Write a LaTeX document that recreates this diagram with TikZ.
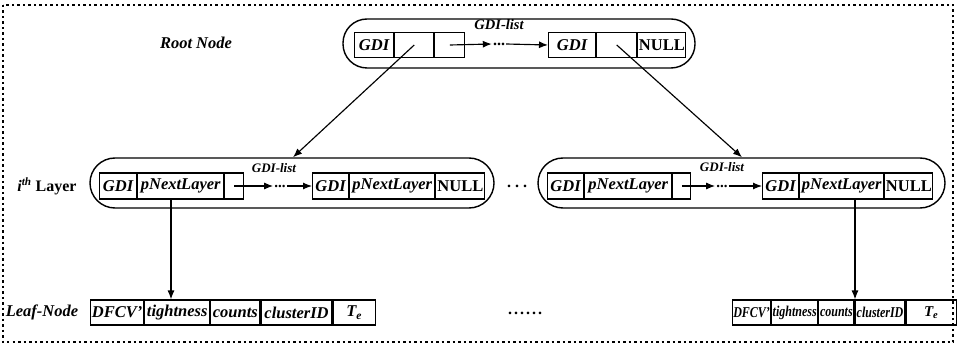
\documentclass[tikz,border=0pt]{standalone}
\usepackage{fontspec}
\setmainfont{Liberation Serif}
\usetikzlibrary{arrows.meta,calc}

% font sizes for the record cells and labels
\newcommand{\cellfont}{\fontsize{16.5}{18}\selectfont\bfseries\itshape}
\newcommand{\leaffontsmall}{\fontsize{15}{17}\selectfont\bfseries\itshape}
\newcommand{\labelfont}{\fontsize{16.5}{18}\selectfont\bfseries\itshape}
\newcommand{\rootlistfont}{\fontsize{14.5}{16}\selectfont\bfseries\itshape}
\newcommand{\layerlistfont}{\fontsize{13}{15}\selectfont\bfseries\itshape}
\newcommand{\nullcell}{\upshape NULL}
% narrower set of the right-hand leaf record
\newcommand{\narrow}[1]{\scalebox{0.8}[1]{#1}}

\begin{document}
\begin{tikzpicture}[x=1pt,y=-1pt,
  cell/.style={draw, line width=1.15pt, inner sep=0pt, minimum height=25pt,
               anchor=west, font=\cellfont},
  layercell/.style={cell, minimum height=26pt},
  leafsmall/.style={cell, font=\leaffontsmall},
  capsule/.style={draw, line width=1.4pt, rounded corners=24pt, inner sep=0pt},
  link/.style={line width=1.15pt, -{Latex[length=9pt,width=7pt]}},
  dots/.style={inner sep=1pt, font=\fontsize{16}{18}\selectfont\bfseries},
  listlabel/.style={inner sep=0pt, font=\layerlistfont},
  sidelabel/.style={inner sep=0pt, font=\labelfont},
  frame/.style={line width=1.1pt, dash pattern=on 2.5pt off 3pt}]
\useasboundingbox (0,0) rectangle (957,355);

% dashed outer frame
\draw[frame] (3,5) rectangle (953,342);

% ---------- root node ----------
\node[sidelabel] (rootlbl) at (196,43) {Root Node};
\node[capsule, minimum width=352pt, minimum height=49pt] (rootbox) at (519,43.5) {};
\node[cell, minimum width=39pt] (r1a) at (354,45) {GDI};
\node[cell, minimum width=39pt] (r1b) at (r1a.east) {};
\node[cell, minimum width=30pt] (r1c) at (r1b.east) {};
\node[cell, minimum width=47pt] (r2a) at (548,45) {GDI};
\node[cell, minimum width=40pt] (r2b) at (r2a.east) {};
\node[cell, minimum width=48pt] (r2c) at (r2b.east) {\nullcell};
\node[dots] (rdots) at (499,44) {...};
\node[inner sep=0pt, font=\rootlistfont] (rlist) at (499,25) {GDI-list};
\draw[link] (r1c.center) -- (rdots.west);
\draw[link] (rdots.east) -- (r2a.west);

% ---------- i-th layer, left list ----------
\node[sidelabel, font=\fontsize{16}{18}\selectfont\bfseries] (layerlbl) at (47,186)
  {\textit{i}\textsuperscript{\itshape th} Layer};
\node[capsule, rounded corners=25pt, minimum width=404pt, minimum height=50pt] (lbox) at (292,183) {};
\node[layercell, minimum width=37pt] (l1a) at (99,186) {GDI};
\node[layercell, minimum width=86pt] (l1b) at (l1a.east) {pNextLayer};
\node[layercell, minimum width=19pt] (l1c) at (l1b.east) {};
\node[layercell, minimum width=36pt] (l2a) at (312,186) {GDI};
\node[layercell, minimum width=85pt] (l2b) at (l2a.east) {pNextLayer};
\node[layercell, minimum width=49pt] (l2c) at (l2b.east) {\nullcell};
\node[dots, font=\fontsize{15}{17}\selectfont\bfseries] (ldots) at (280,186) {...};
\node[listlabel] (llist) at (274,168) {GDI-list};
\draw[link] (l1c.center) -- (ldots.west);
\draw[link] (ldots.east) -- (l2a.west);

% dots between the two layer lists
\node[dots] (midots) at (517,186) {.\ .\ .};

% ---------- i-th layer, right list ----------
\node[capsule, rounded corners=25pt, minimum width=407pt, minimum height=50pt] (rbox) at (741.5,183) {};
\node[layercell, minimum width=36pt] (q1a) at (547,186) {GDI};
\node[layercell, minimum width=87pt] (q1b) at (q1a.east) {pNextLayer};
\node[layercell, minimum width=18pt] (q1c) at (q1b.east) {};
\node[layercell, minimum width=36pt] (q2a) at (762,186) {GDI};
\node[layercell, minimum width=84pt] (q2b) at (q2a.east) {pNextLayer};
\node[layercell, minimum width=48pt] (q2c) at (q2b.east) {\nullcell};
\node[dots, font=\fontsize{15}{17}\selectfont\bfseries] (qdots) at (722,186) {...};
\node[listlabel] (qlist) at (722,167) {GDI-list};
\draw[link] (q1c.center) -- (qdots.west);
\draw[link] (qdots.east) -- (q2a.west);

% ---------- leaf nodes ----------
\node[sidelabel] (leaflbl) at (42,312) {Leaf-Node};
\node[cell, minimum width=53pt] (lf1) at (90,312.5) {DFCV'};
\node[cell, minimum width=65pt] (lf2) at (lf1.east) {tightness};
\node[cell, minimum width=49pt] (lf3) at (lf2.east) {counts};
\node[cell, minimum width=71pt] (lf4) at (lf3.east) {clusterID};
\node[cell, minimum width=42pt] (lf5) at (lf4.east) {T\textsubscript{e}};

\node[dots] (leafdots) at (525,313) {.\kern2pt.\kern2pt.\kern2pt.\kern2pt.\kern2pt.};

\node[leafsmall, minimum width=38pt] (rf1) at (732,312.5) {\narrow{DFCV'}};
\node[leafsmall, minimum width=46pt] (rf2) at (rf1.east) {\narrow{tightness}};
\node[leafsmall, minimum width=35pt] (rf3) at (rf2.east) {\narrow{counts}};
\node[leafsmall, minimum width=50pt] (rf4) at (rf3.east) {\narrow{clusterID}};
\node[leafsmall, minimum width=50pt] (rf5) at (rf4.east) {T\textsubscript{e}};

% ---------- links between levels ----------
\coordinate (lentry) at (293,0);
\coordinate (rentry) at (742,0);
\coordinate (ldrop) at (171,0);
\coordinate (rdrop) at (855,0);
\draw[link] (r1b.center) -- (lbox.north -| lentry);
\draw[link] (r2b.center) -- (rbox.north -| rentry);
\draw[link] (l1b.south -| ldrop) -- (lf2.north -| ldrop);
\draw[link] (q2b.south -| rdrop) -- (rf4.north -| rdrop);
\end{tikzpicture}
\end{document}
